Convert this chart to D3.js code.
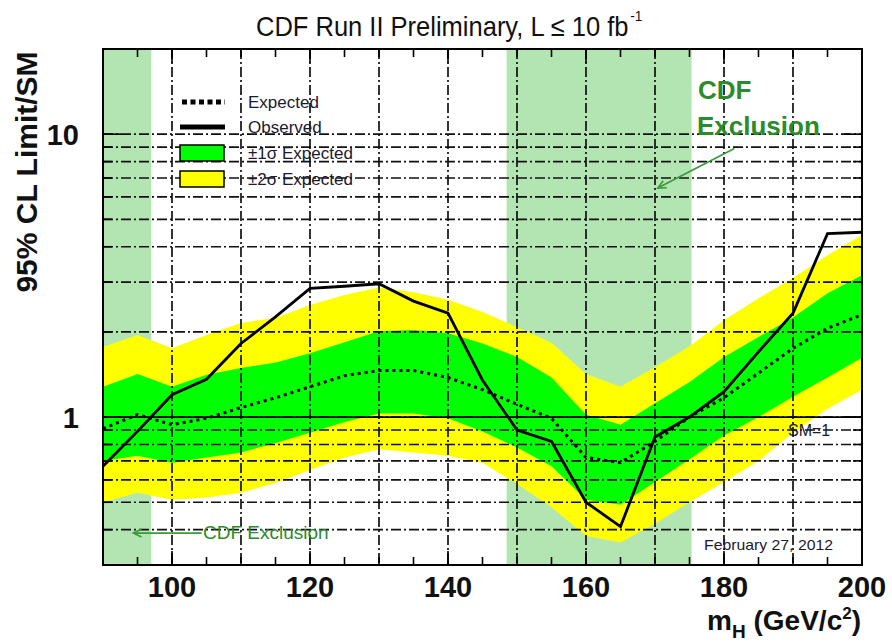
<!DOCTYPE html>
<html><head><meta charset="utf-8">
<script src="https://cdn.jsdelivr.net/npm/d3@7"></script>
<style>body{margin:0;background:#fff} svg{display:block}</style>
</head><body><svg id="c" width="892" height="642"></svg>
<script>
const masses   = [90,95,100,105,110,115,120,125,130,135,140,145,150,155,160,165,170,175,180,185,190,195,200];
const observed = [0.67,0.89,1.20,1.36,1.82,2.26,2.85,2.90,2.96,2.57,2.33,1.35,0.90,0.82,0.50,0.41,0.85,1.00,1.23,1.70,2.33,4.45,4.50];
const expected = [0.91,1.02,0.94,0.99,1.08,1.17,1.28,1.40,1.46,1.46,1.38,1.25,1.11,0.99,0.72,0.69,0.82,1.00,1.17,1.43,1.75,2.06,2.30];
const plus1    = [1.28,1.42,1.28,1.41,1.49,1.56,1.68,1.84,2.01,2.03,1.98,1.82,1.63,1.38,1.02,0.94,1.12,1.33,1.63,1.92,2.25,2.74,3.17];
const minus1   = [0.70,0.73,0.69,0.72,0.75,0.81,0.88,0.96,1.03,1.03,0.99,0.89,0.78,0.67,0.51,0.49,0.59,0.71,0.86,1.00,1.18,1.38,1.62];
const plus2    = [1.77,1.95,1.75,1.95,2.15,2.24,2.49,2.70,2.87,2.76,2.60,2.35,2.08,1.83,1.42,1.28,1.50,1.78,2.20,2.63,3.10,3.73,4.40];
const minus2   = [0.50,0.54,0.51,0.52,0.54,0.585,0.65,0.72,0.77,0.75,0.73,0.69,0.58,0.48,0.38,0.36,0.42,0.50,0.59,0.70,0.88,1.07,1.25];
const exclusionLow  = [90,148.5];
const exclusionHigh = [97,175.3];
const xTickLabels = [100,120,140,160,180,200];
const yTickLabels = [1,10];
const xGridValues = [100,110,120,130,140,150,160,170,180,190];
const yGridValues = [0.4,0.5,0.6,0.7,0.8,0.9,1,2,3,4,5,6,7,8,9,10];
const xMinorTicks = [95,100,105,110,115,120,125,130,135,140,145,150,155,160,165,170,175,180,185,190,195];
const xMajorTicks = [100,120,140,160,180];
const yMinorTicks = [0.4,0.5,0.6,0.7,0.8,0.9,2,3,4,5,6,7,8,9];
const yMajorTicks = [1,10];
const legendItems = ["Expected","Observed","\u00b11\u03c3 Expected","\u00b12\u03c3 Expected"];

const svg = d3.select("#c");
const L=103, R=862, T=49, B=565;
const x = d3.scaleLinear().domain([90,200]).range([L,R]);
const y = d3.scaleLog().domain([0.3,20]).range([B,T]);

svg.append("rect").attr("width",892).attr("height",642).attr("fill","#fff");
svg.append("defs").append("clipPath").attr("id","clip")
  .append("rect").attr("x",L).attr("y",T).attr("width",R-L).attr("height",B-T);
const g = svg.append("g").attr("clip-path","url(#clip)");

// exclusion regions
g.selectAll("rect.ex").data(exclusionLow).join("rect")
  .attr("x",d=>x(d)).attr("width",(d,i)=>x(exclusionHigh[i])-x(d))
  .attr("y",T).attr("height",B-T).attr("fill","#b3e5b3");

const rows = masses.map((m,i)=>({m,o:observed[i],e:expected[i],p1:plus1[i],m1:minus1[i],p2:plus2[i],m2:minus2[i]}));
g.append("path").datum(rows).attr("fill","#ffff00")
  .attr("d",d3.area().x(d=>x(d.m)).y0(d=>y(d.m2)).y1(d=>y(d.p2)));
g.append("path").datum(rows).attr("fill","#00ff00")
  .attr("d",d3.area().x(d=>x(d.m)).y0(d=>y(d.m1)).y1(d=>y(d.p1)));

// grid
const dash = "10,3,2,3";
g.selectAll("line.hg").data(yGridValues).join("line")
  .attr("x1",L).attr("x2",R).attr("y1",d=>y(d)).attr("y2",d=>y(d))
  .attr("stroke","#111").attr("stroke-width",1.7).attr("stroke-dasharray",dash);
g.selectAll("line.vg").data(xGridValues).join("line")
  .attr("y1",T).attr("y2",B).attr("x1",d=>x(d)).attr("x2",d=>x(d))
  .attr("stroke","#111").attr("stroke-width",1.7).attr("stroke-dasharray",dash);

// SM = 1 line
g.append("line").attr("x1",L).attr("x2",R).attr("y1",y(1)).attr("y2",y(1))
  .attr("stroke","#000").attr("stroke-width",1.8);

// expected and observed
const line = key => d3.line().x(d=>x(d.m)).y(d=>y(d[key]));
g.append("path").datum(rows).attr("fill","none").attr("stroke","#000")
  .attr("stroke-width",3).attr("stroke-dasharray","3,4").attr("d",line("e"));
g.append("path").datum(rows).attr("fill","none").attr("stroke","#000")
  .attr("stroke-width",2.8).attr("stroke-linejoin","miter").attr("d",line("o"));

// frame
svg.append("rect").attr("x",L).attr("y",T).attr("width",R-L).attr("height",B-T)
  .attr("fill","none").attr("stroke","#000").attr("stroke-width",2);

// ticks
const tk = svg.append("g").attr("stroke","#000").attr("stroke-width",1.6);
function xt(vals,len){
  tk.selectAll(null).data(vals).join("line").attr("x1",d=>x(d)).attr("x2",d=>x(d)).attr("y1",B).attr("y2",B-len);
  tk.selectAll(null).data(vals).join("line").attr("x1",d=>x(d)).attr("x2",d=>x(d)).attr("y1",T).attr("y2",T+len);
}
function yt(vals,len){
  tk.selectAll(null).data(vals).join("line").attr("y1",d=>y(d)).attr("y2",d=>y(d)).attr("x1",L).attr("x2",L+len);
  tk.selectAll(null).data(vals).join("line").attr("y1",d=>y(d)).attr("y2",d=>y(d)).attr("x1",R).attr("x2",R-len);
}
xt(xMinorTicks,8); xt(xMajorTicks,14); yt(yMinorTicks,9); yt(yMajorTicks,18);

// tick labels
svg.selectAll("text.xl").data(xTickLabels).join("text")
  .attr("x",d=>x(d)).attr("y",597).attr("text-anchor","middle")
  .attr("font-family","Liberation Sans, Arial, sans-serif").attr("font-weight","bold")
  .attr("font-size",29).attr("fill","#111").text(d=>d);
svg.selectAll("text.yl").data(yTickLabels).join("text")
  .attr("x",79).attr("y",d=>y(d)+11).attr("text-anchor","end")
  .attr("font-family","Liberation Sans, Arial, sans-serif").attr("font-weight","bold")
  .attr("font-size",29).attr("fill","#111").text(d=>d);

// axis titles
svg.append("text").attr("transform","translate(37,172) rotate(-90)").attr("text-anchor","middle")
  .attr("font-family","Liberation Sans, Arial, sans-serif").attr("font-weight","bold")
  .attr("font-size",30).attr("fill","#111").text("95% CL Limit/SM");
const xt2 = svg.append("text").attr("x",861).attr("y",630).attr("text-anchor","end")
  .attr("font-family","Liberation Sans, Arial, sans-serif").attr("font-weight","bold")
  .attr("font-size",28).attr("fill","#111");
xt2.append("tspan").text("m");
xt2.append("tspan").attr("font-size",19).attr("dy",8).text("H");
xt2.append("tspan").attr("dy",-8).text(" (GeV/c");
xt2.append("tspan").attr("font-size",17).attr("dy",-11).text("2");
xt2.append("tspan").attr("dy",11).text(")");

// title (one text element, horizontally condensed to the reference width)
const title = svg.append("text")
  .attr("font-family","Liberation Sans Narrow, Arial Narrow, Liberation Sans, sans-serif")
  .attr("font-size",28).attr("fill","#111");
title.append("tspan").text("CDF Run II Preliminary, L \u2264 10 fb");
title.append("tspan").attr("font-size",15).attr("dx",2).attr("dy",-15).text("-1");
const tw = title.node().getComputedTextLength();
const k = Math.min(1, 385/tw);
title.attr("transform",`translate(256,36) scale(${k},1)`);

// legend
const lg = svg.append("g");
const ly = [102,127,153,179];
lg.append("line").attr("x1",182).attr("x2",225).attr("y1",ly[0]).attr("y2",ly[0])
  .attr("stroke","#000").attr("stroke-width",5).attr("stroke-dasharray","5,3.5");
lg.append("line").attr("x1",180).attr("x2",225).attr("y1",ly[1]).attr("y2",ly[1])
  .attr("stroke","#000").attr("stroke-width",5);
lg.append("rect").attr("x",180).attr("y",145).attr("width",44).attr("height",16)
  .attr("fill","#00ff00").attr("stroke","#000").attr("stroke-width",1.5);
lg.append("rect").attr("x",180).attr("y",171).attr("width",44).attr("height",16)
  .attr("fill","#ffff00").attr("stroke","#000").attr("stroke-width",1.5);
lg.selectAll("text").data(legendItems).join("text")
  .attr("x",248).attr("y",(d,i)=>ly[i]+6)
  .attr("font-family","Liberation Sans, Arial, sans-serif")
  .attr("font-size",17).attr("fill","#1a1a30").text(d=>d);

// annotations
const green = "#2a8c2a";
svg.append("text").attr("x",698).attr("y",99).attr("font-family","Liberation Sans, Arial, sans-serif")
  .attr("font-weight","bold").attr("font-size",26).attr("fill",green).text("CDF");
svg.append("text").attr("x",697).attr("y",135).attr("font-family","Liberation Sans, Arial, sans-serif")
  .attr("font-weight","bold").attr("font-size",26).attr("fill",green).text("Exclusion");
function arrow(m1,v1,m2,v2){
  const x1=x(m1),y1=y(v1),x2=x(m2),y2=y(v2);
  const a=Math.atan2(y2-y1,x2-x1), h=9, s=0.45;
  svg.append("line").attr("x1",x1).attr("y1",y1).attr("x2",x2).attr("y2",y2)
    .attr("stroke","#3a9a3a").attr("stroke-width",1.6);
  svg.append("path").attr("fill","none").attr("stroke","#3a9a3a").attr("stroke-width",1.6)
    .attr("d",`M${x2-h*Math.cos(a-s)},${y2-h*Math.sin(a-s)}L${x2},${y2}L${x2-h*Math.cos(a+s)},${y2-h*Math.sin(a+s)}`);
}
arrow(181.5,8.9,170.4,6.45);
arrow(104.3,0.389,94.4,0.389);
svg.append("text").attr("x",203).attr("y",539).attr("font-family","Liberation Sans, Arial, sans-serif")
  .attr("font-size",19).attr("fill",green).text("CDF Exclusion");
svg.append("text").attr("x",788).attr("y",436).attr("font-family","Liberation Sans, Arial, sans-serif")
  .attr("font-size",16).attr("fill","#1a1a30").text("SM=1");
svg.append("text").attr("x",704).attr("y",550).attr("font-family","Liberation Sans, Arial, sans-serif")
  .attr("font-size",15).attr("fill","#1a1a30")
  .attr("textLength",129).attr("lengthAdjust","spacingAndGlyphs").text("February 27, 2012");
</script></body></html>
